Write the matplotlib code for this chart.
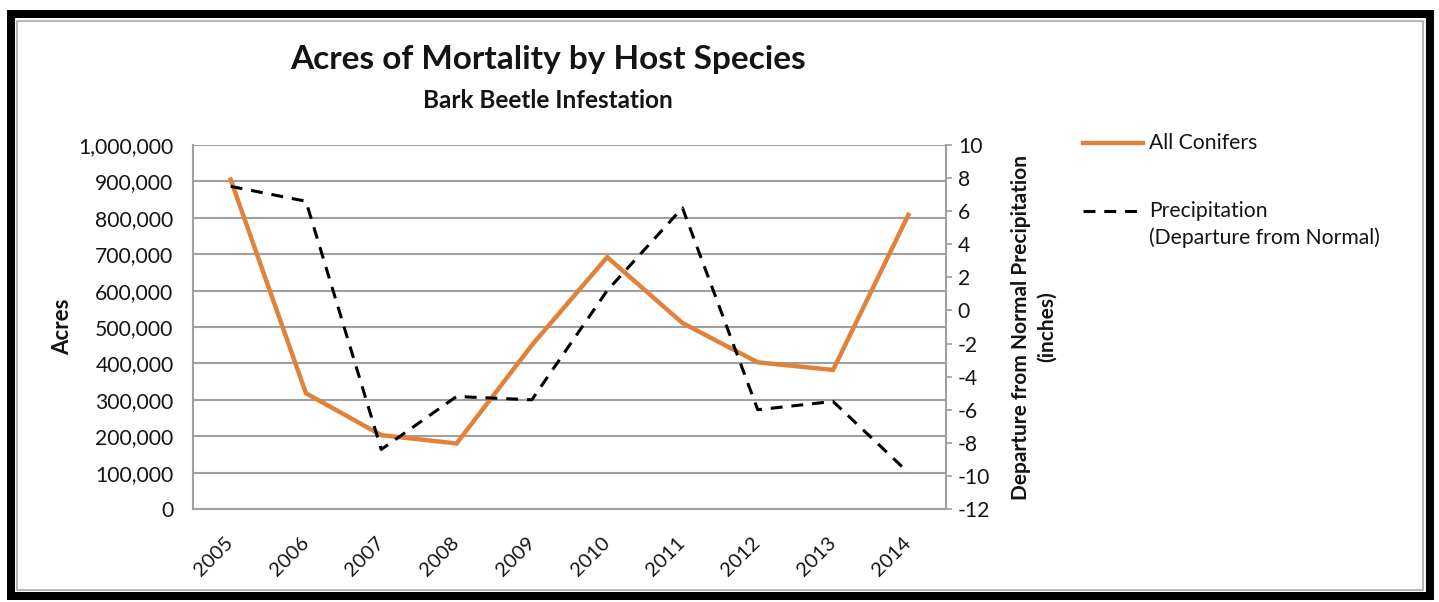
import numpy as np
import matplotlib
matplotlib.use("Agg")
import matplotlib.pyplot as plt
from matplotlib.patches import Rectangle
from matplotlib.lines import Line2D
from matplotlib.ticker import FuncFormatter

plt.rcParams['font.family'] = ['Lato', 'DejaVu Sans']
plt.rcParams['axes.unicode_minus'] = False

# Data
years = ['2005', '2006', '2007', '2008', '2009', '2010', '2011', '2012', '2013', '2014']
conifer_acres = [905000, 318000, 203000, 180000, 450000, 692000, 511000, 403000, 382000, 808000]
precip_departure = [7.5, 6.6, -8.4, -5.2, -5.4, 1.2, 6.2, -6.0, -5.5, -9.8]

W, H = 1439, 602
fig = plt.figure(figsize=(W / 100, H / 100), dpi=100)

def fx(px):
    return px / W

def fy(py):
    return 1 - py / H

# outer frame
fig.patches.append(Rectangle((fx(11), fy(596)), fx(1430) - fx(11), fy(13.5) - fy(596),
                             transform=fig.transFigure, fill=False, ec='black', lw=5.8))
fig.patches.append(Rectangle((fx(16.5), fy(590)), fx(1423) - fx(16.5), fy(21) - fy(590),
                             transform=fig.transFigure, fill=False, ec='#a8a8a8', lw=1.2))

grey = '#a0a0a0'
orange = '#E0823C'
txt = '#141414'

ax = fig.add_axes([fx(193), fy(509), fx(946) - fx(193), fy(145) - fy(509)])
x = np.arange(len(years))

ax.set_xlim(-0.5, len(years) - 0.5)
ax.set_ylim(0, 1000000)
ax.set_yticks(np.arange(0, 1000001, 100000))
ax.yaxis.set_major_formatter(FuncFormatter(lambda v, p: f'{v:,.0f}'))
ax.grid(axis='y', color=grey, lw=1.5)
ax.set_axisbelow(True)
ax.set_xticks(x)
ax.set_xticklabels(years, rotation=45, ha='right', va='center', rotation_mode='anchor')
ax.tick_params(axis='x', length=0, pad=22, labelsize=14.5, labelcolor=txt)
ax.tick_params(axis='y', length=0, pad=14, labelsize=15.2, labelcolor=txt)
for s in ['left', 'bottom']:
    ax.spines[s].set_color(grey)
    ax.spines[s].set_linewidth(1.5)
ax.spines['top'].set_visible(False)
ax.spines['right'].set_visible(False)
ax.set_ylabel('Acres', fontsize=16, fontweight='bold', color=txt, labelpad=4)

ax2 = ax.twinx()
ax2.set_ylim(-12, 10)
ax2.set_yticks(np.arange(-12, 11, 2))
ax2.tick_params(axis='y', direction='out', length=4.5, width=1.2, color=grey,
                pad=4, labelsize=15.2, labelcolor=txt)
for s in ['left', 'bottom', 'top']:
    ax2.spines[s].set_visible(False)
ax2.spines['right'].set_color(grey)
ax2.spines['right'].set_linewidth(1.5)
ax2.set_ylabel('Departure from Normal Precipitation\n(inches)', fontsize=15,
               fontweight='bold', color=txt, labelpad=15, linespacing=1.35)

ax.plot(x, conifer_acres, color=orange, lw=3.2, solid_joinstyle='miter', zorder=3)
ax2.plot(x, precip_departure, color='black', lw=2.2, dashes=(3.9, 2.9), zorder=3)

# titles
fig.text(fx(548), fy(60), 'Acres of Mortality by Host Species', ha='center', va='center',
         fontsize=24, fontweight='bold', color=txt)
fig.text(fx(548), fy(100), 'Bark Beetle Infestation', ha='center', va='center',
         fontsize=17.5, fontweight='bold', color=txt)

# legend
fig.lines.append(Line2D([fx(1083), fx(1143)], [fy(143), fy(143)], transform=fig.transFigure,
                        color=orange, lw=3.2))
fig.text(fx(1149), fy(143), 'All Conifers', ha='left', va='center', fontsize=15.2, color=txt)
fig.lines.append(Line2D([fx(1083), fx(1142)], [fy(211), fy(211)], transform=fig.transFigure,
                        color='black', lw=2.2, dashes=(3.9, 2.9)))
fig.text(fx(1149), fy(211), 'Precipitation', ha='left', va='center', fontsize=15.2, color=txt)
fig.text(fx(1149), fy(238), '(Departure from Normal)', ha='left', va='center', fontsize=15.2, color=txt)

fig.savefig('out.png', dpi=100)
